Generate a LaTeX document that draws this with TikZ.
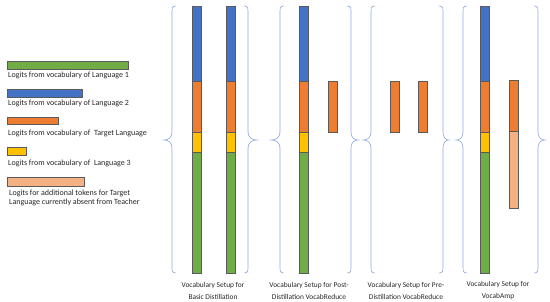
\documentclass[tikz,border=0pt]{standalone}
\usepackage{fontspec}
\setmainfont{Carlito}
\definecolor{cgreen}{HTML}{70AD47}
\definecolor{cblue}{HTML}{4472C4}
\definecolor{corange}{HTML}{ED7D31}
\definecolor{cyellow}{HTML}{FFC000}
\definecolor{clight}{HTML}{F4B183}
\definecolor{cbrace}{HTML}{8FAADC}
\definecolor{cedge}{HTML}{5A5A5A}
\definecolor{ctext}{HTML}{262626}
\tikzset{
  seg/.style={draw=cedge, line width=0.5pt},
  bracestyle/.style={draw=cbrace, line width=0.6pt},
  legtext/.style={anchor=west, text=ctext, font=\fontsize{8}{9}\selectfont, inner sep=0pt},
  captext/.style={align=center, text=ctext, font=\fontsize{7.4}{12}\selectfont, inner sep=0pt}
}
% #1 vertical x, #2 tip x, #3 end hook x
\newcommand\mycurly[3]{%
  \draw[bracestyle] (#3,6) .. controls (#1,6) and (#1,8) .. (#1,13) -- (#1,132)
    .. controls (#1,138) and ({(#1+#2)/2},140) .. (#2,140)
    .. controls ({(#1+#2)/2},140) and (#1,142) .. (#1,148) -- (#1,266)
    .. controls (#1,271) and (#1,273) .. (#3,273);}
% full bar at x
\newcommand\fullbar[1]{%
  \filldraw[seg, fill=cblue] (#1,6) rectangle ({#1+9},81);
  \filldraw[seg, fill=corange] (#1,81) rectangle ({#1+9},132);
  \filldraw[seg, fill=cyellow] (#1,132) rectangle ({#1+9},152);
  \filldraw[seg, fill=cgreen] (#1,152) rectangle ({#1+9},273);}
\begin{document}
\begin{tikzpicture}[x=1pt,y=-1pt]
\useasboundingbox (0,0) rectangle (550,302);
% legend
\filldraw[seg, fill=cgreen] (7,61) rectangle (128,69);
\node[legtext] (l1) at (8,75) {Logits from vocabulary of Language 1};
\filldraw[seg, fill=cblue] (7,89) rectangle (82,97);
\node[legtext] (l2) at (8,103) {Logits from vocabulary of Language 2};
\filldraw[seg, fill=corange] (7,117) rectangle (58,124);
\node[legtext] (l3) at (8,133) {Logits from vocabulary of\ \ Target Language};
\filldraw[seg, fill=cyellow] (7,147) rectangle (26,155);
\node[legtext] (l4) at (8,163) {Logits from vocabulary of\ \ Language 3};
\filldraw[seg, fill=clight] (7,177) rectangle (84,186);
\node[legtext, align=left, anchor=north west, font=\fontsize{8}{8.6}\selectfont] (l5) at (9,190) {Logits for additional tokens for Target\\Language currently absent from Teacher};
% braces
\mycurly{172}{164}{176}
\mycurly{248}{257}{244}
\mycurly{280}{271}{284}
\mycurly{351}{358}{347}
\mycurly{371}{363}{375}
\mycurly{443}{449}{439}
\mycurly{463}{456}{467}
\mycurly{538}{545}{534}
% basic distillation
\fullbar{192}
\fullbar{226}
% post
\fullbar{299}
\filldraw[seg, fill=corange] (328,81) rectangle (337,132);
% pre
\filldraw[seg, fill=corange] (390,81) rectangle (399,132);
\filldraw[seg, fill=corange] (418,81) rectangle (427,132);
% amp
\fullbar{480}
\filldraw[seg, fill=corange] (509,80) rectangle (518,131);
\filldraw[seg, fill=clight] (509,131) rectangle (518,208);
% captions
\node[captext] (c1) at (213,291) {Vocabulary Setup for\\Basic Distillation};
\node[captext] (c2) at (309,291) {Vocabulary Setup for Post-\\Distillation VocabReduce};
\node[captext] (c3) at (406,291) {Vocabulary Setup for Pre-\\Distillation VocabReduce};
\node[captext] (c4) at (498,291) {Vocabulary Setup for\\VocabAmp};
\end{tikzpicture}
\end{document}
